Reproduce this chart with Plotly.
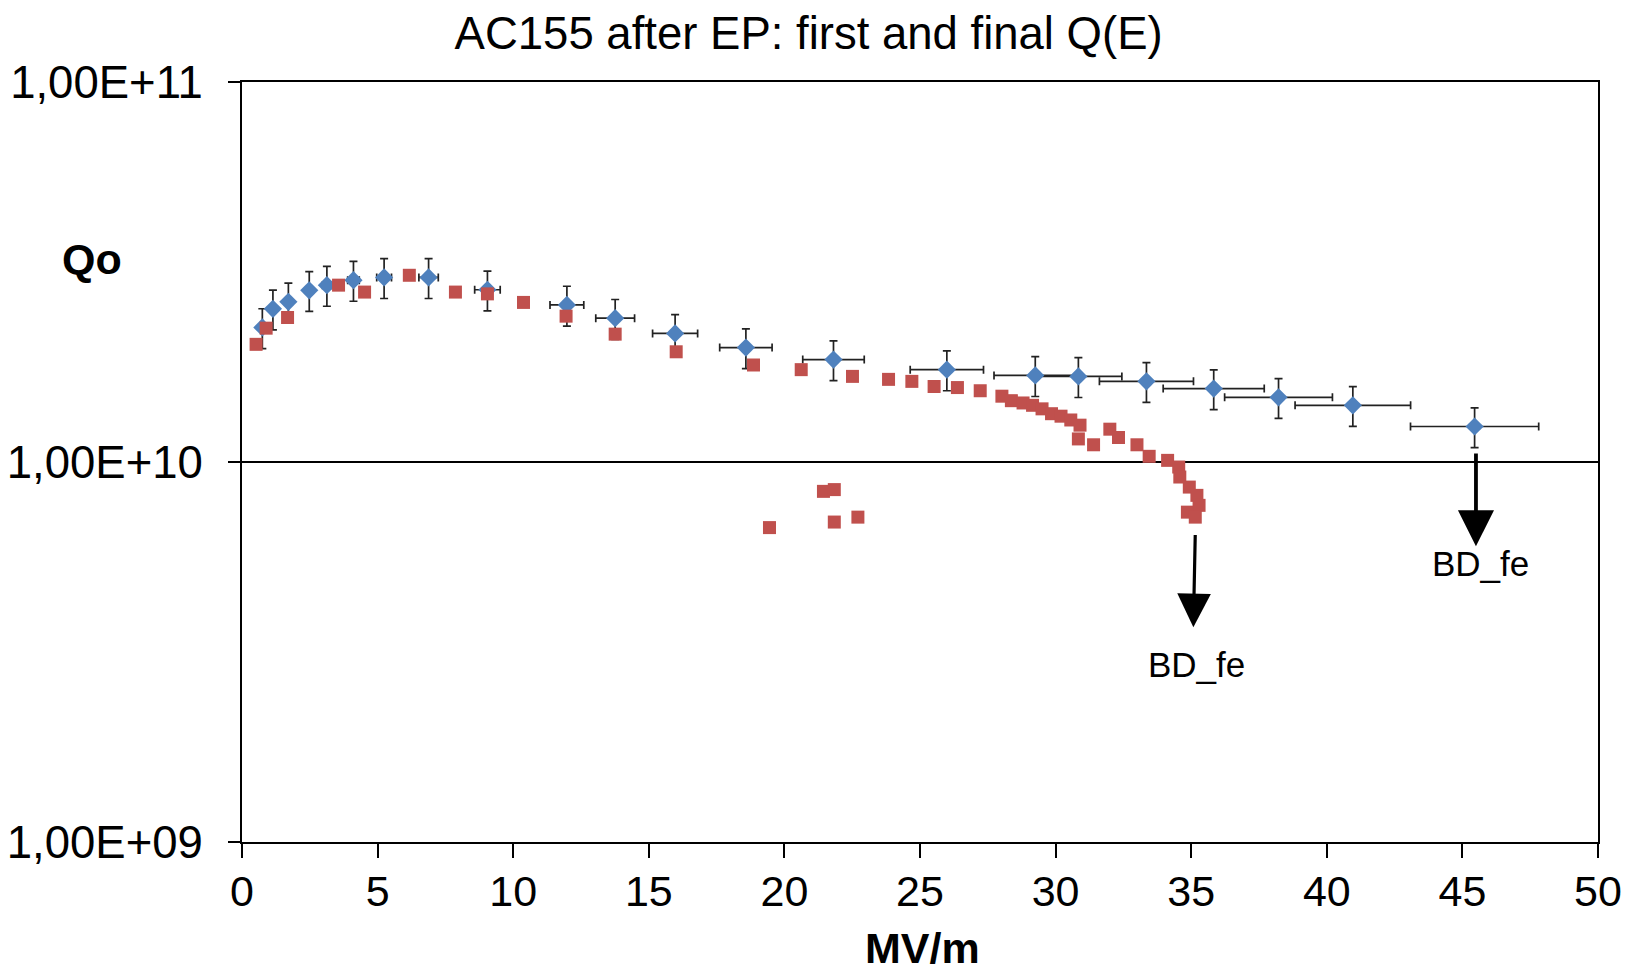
import plotly.graph_objects as go

# ---- data ----
first_E = [0.52, 0.89, 1.68, 3.56, 4.52, 6.17, 7.87, 9.05, 10.38, 11.95, 13.76, 16.01,
           18.86, 20.62, 22.51, 23.84, 24.70, 25.52, 26.38, 27.22, 28.02, 28.37, 28.80,
           29.15, 29.50, 29.85, 30.20, 30.56, 30.90, 30.84, 31.40, 32.00, 32.32, 33.00,
           33.45, 34.13, 34.54, 34.58, 34.93, 35.21, 35.29, 34.86, 35.15,
           19.45, 21.44, 21.84, 21.84, 22.71]
first_Q = [2.04e10, 2.25e10, 2.40e10, 2.92e10, 2.80e10, 3.10e10, 2.80e10, 2.77e10, 2.63e10,
           2.42e10, 2.17e10, 1.95e10, 1.80e10, 1.75e10, 1.68e10, 1.65e10, 1.63e10, 1.58e10,
           1.57e10, 1.54e10, 1.49e10, 1.45e10, 1.43e10, 1.41e10, 1.38e10, 1.34e10, 1.32e10,
           1.29e10, 1.25e10, 1.15e10, 1.11e10, 1.22e10, 1.16e10, 1.11e10, 1.035e10, 1.01e10,
           9.7e9, 9.13e9, 8.59e9, 8.17e9, 7.69e9, 7.38e9, 7.16e9,
           6.72e9, 8.37e9, 8.46e9, 6.95e9, 7.16e9]

final_E = [0.75, 1.14, 1.71, 2.48, 3.13, 4.11, 5.24, 6.88, 9.05, 11.98, 13.76, 15.97,
           18.58, 21.81, 25.99, 29.25, 30.84, 33.35, 35.83, 38.22, 40.96, 45.45]
final_Q = [2.26e10, 2.53e10, 2.64e10, 2.83e10, 2.92e10, 3.01e10, 3.06e10, 3.06e10, 2.84e10,
           2.59e10, 2.39e10, 2.18e10, 2.00e10, 1.86e10, 1.75e10, 1.69e10, 1.68e10, 1.63e10,
           1.56e10, 1.48e10, 1.41e10, 1.24e10]
err_E_pct = 5.2
err_Q_pct = 12

x_ticks = [0, 5, 10, 15, 20, 25, 30, 35, 40, 45, 50]
y_tickvals = [1e9, 1e10, 1e11]
y_ticktext = ["1,00E+09", "1,00E+10", "1,00E+11"]

title_text = "AC155 after EP: first and final Q(E)"
x_title = "MV/m"
y_title = "Qo"
bd_label = "BD_fe"

FONT = "Liberation Sans, Arial, sans-serif"

fig = go.Figure()

fig.add_trace(go.Scatter(
    x=final_E, y=final_Q, mode="markers", name="final",
    marker=dict(symbol="diamond", size=14, color="#4F81BD"),
    error_x=dict(type="percent", value=err_E_pct, color="#222222", thickness=1.7, width=4),
    error_y=dict(type="percent", value=err_Q_pct, color="#222222", thickness=1.7, width=4),
))
fig.add_trace(go.Scatter(
    x=first_E, y=first_Q, mode="markers", name="first",
    marker=dict(symbol="square", size=13, color="#C0504D"),
))

fig.update_layout(
    width=1627, height=977,
    margin=dict(l=242, r=29, t=82, b=135),
    paper_bgcolor="white", plot_bgcolor="white",
    showlegend=False,
    font=dict(family=FONT, color="black", size=44),
    title=dict(text=title_text, x=0.497, xref="container", xanchor="center",
               y=1 - 33 / 977, yref="container", yanchor="middle",
               font=dict(family=FONT, size=45.5, color="black")),
)

fig.update_xaxes(
    range=[0, 50], tickvals=x_ticks, ticks="outside", ticklen=14, tickwidth=1.5,
    tickcolor="black", showline=True, linecolor="black", linewidth=2, mirror=True,
    showgrid=False, zeroline=False, tickfont=dict(size=43, family=FONT),
    ticklabelstandoff=-4, automargin=False,
)
fig.update_yaxes(
    type="log", range=[9, 11], tickvals=y_tickvals, ticktext=y_ticktext,
    ticks="outside", ticklen=12, tickwidth=1.5, tickcolor="black",
    showline=True, linecolor="black", linewidth=2, mirror=True,
    showgrid=True, gridcolor="black", gridwidth=1.5, zeroline=False,
    tickfont=dict(size=45.5, family=FONT), ticklabelstandoff=16, automargin=False,
)

annotations = [
    dict(text="<b>" + y_title + "</b>", xref="paper", yref="paper",
         x=(92 - 242) / 1356, y=(841.5 - 259) / 759.5, showarrow=False,
         xanchor="center", yanchor="middle", font=dict(size=43, family=FONT)),
    dict(text="<b>" + x_title + "</b>", xref="paper", yref="paper",
         x=(922.5 - 242) / 1356, y=(841.5 - 947) / 759.5, showarrow=False,
         xanchor="center", yanchor="middle", font=dict(size=43, family=FONT)),
    # arrows
    dict(text="", x=35.08, y=9.565, ax=35.15, ay=9.812, xref="x", yref="y",
         axref="x", ayref="y", showarrow=True, arrowhead=2, arrowsize=2.1,
         arrowwidth=3.2, arrowcolor="black", standoff=0),
    dict(text="", x=45.5, y=9.778, ax=45.5, ay=10.026, xref="x", yref="y",
         axref="x", ayref="y", showarrow=True, arrowhead=2, arrowsize=1.9,
         arrowwidth=3.8, arrowcolor="black", standoff=0),
    dict(text=bd_label, x=35.2, y=9.467, xref="x", yref="y", showarrow=False,
         xanchor="center", yanchor="middle", font=dict(size=35, family=FONT)),
    dict(text=bd_label, x=45.68, y=9.732, xref="x", yref="y", showarrow=False,
         xanchor="center", yanchor="middle", font=dict(size=35, family=FONT)),
]
fig.update_layout(annotations=annotations)

fig.write_html("out.html")
